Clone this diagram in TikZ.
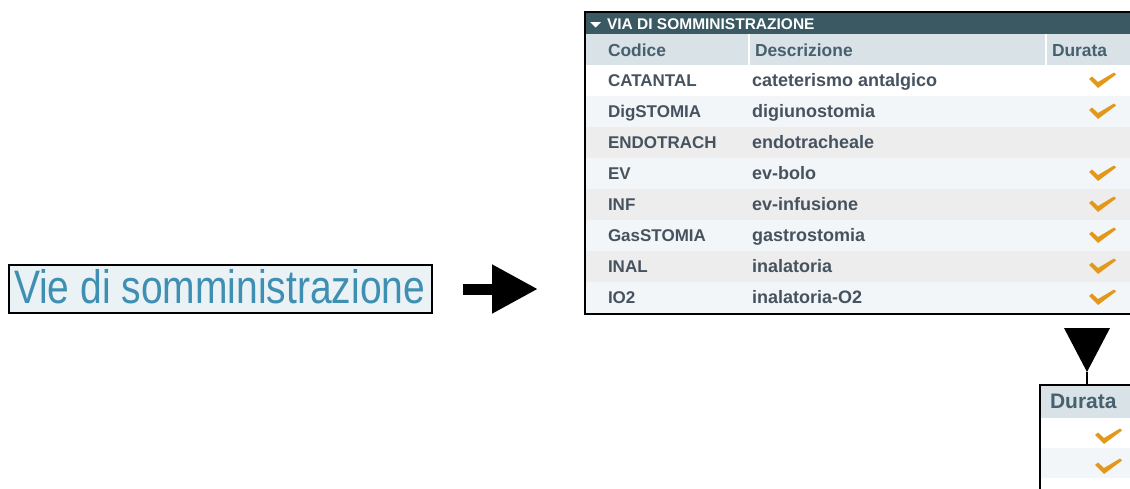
\documentclass[tikz,border=0pt]{standalone}
\usepackage{fontspec}
\setmainfont{Liberation Sans}
\usetikzlibrary{arrows.meta}
\definecolor{bar}{HTML}{3A5963}
\definecolor{hdr}{HTML}{D9E2E6}
\definecolor{rowA}{HTML}{F2F6F9}
\definecolor{rowB}{HTML}{EDEDED}
\definecolor{txt}{HTML}{46535F}
\definecolor{htxt}{HTML}{46606E}
\definecolor{chk}{HTML}{E3981A}
\definecolor{vieblue}{HTML}{3F8FB2}
\definecolor{viebg}{HTML}{EAF2F5}
\begin{document}
\begin{tikzpicture}[x=1pt,y=-1pt,
  every node/.style={inner sep=0pt, outer sep=0pt},
  cell/.style={anchor=base west, font=\bfseries\fontsize{18}{18}\selectfont, text=txt},
  hcell/.style={anchor=base west, font=\bfseries\fontsize{17.4}{18}\selectfont, text=htxt},
  frame/.style={draw=black, line width=2.5pt, anchor=north west},
  bigarrow/.style={line width=11pt, -{Triangle[length=46pt,width=46pt]}},
  pics/chkmark/.style={code={
    \fill[chk] (-13,-1) -- (-10,-3.5) -- (-4,2) -- (12,-7.5) -- (14,-5.5) -- (-4,8) -- cycle;
  }},
]
\clip (0,0) rectangle (1130,488);
\fill[white] (0,0) rectangle (1130,488);

% left box
\node[frame, line width=2pt, fill=viebg, minimum width=423pt, minimum height=48pt] (vie) at (9,265) {};
\node[anchor=base west, text=vieblue, font=\fontsize{47}{47}\selectfont] (vietext) at (14,303) {\scalebox{0.83}[1]{Vie di somministrazione}};

% main table background
\fill[bar] (585,12) rectangle (1140,34);
\fill[hdr] (585,34) rectangle (1140,65);
\draw[white, line width=2pt] (749,34) -- (749,65);
\draw[white, line width=2pt] (1046,34) -- (1046,65);
\fill[white] (585,65) rectangle (1140,96);
\foreach \i in {1,3,5,7} {
  \fill[rowA] (585,65+31*\i) rectangle (1140,96+31*\i);
}
\foreach \i in {2,4,6} {
  \fill[rowB] (585,65+31*\i) rectangle (1140,96+31*\i);
}
\node[frame, minimum width=560pt, minimum height=302pt] (tbl) at (585,12) {};

% title
\fill[white] (590,22) -- (601,22) -- (595.5,27.5) -- cycle;
\node[anchor=base west, text=white, font=\bfseries\fontsize{15.5}{16}\selectfont] (title) at (607,29) {VIA DI SOMMINISTRAZIONE};

% header
\node[hcell] (hcod) at (608,56) {Codice};
\node[hcell] (hdesc) at (755,56) {Descrizione};
\node[hcell] (hdur) at (1052,56) {Durata};

% rows
\foreach \i/\cod/\desc/\c in {0/CATANTAL/cateterismo antalgico/1,
  1/DigSTOMIA/digiunostomia/1,
  2/ENDOTRACH/endotracheale/0,
  3/EV/ev-bolo/1,
  4/INF/ev-infusione/1,
  5/GasSTOMIA/gastrostomia/1,
  6/INAL/inalatoria/1,
  7/IO2/inalatoria-O2/1} {
  \node[cell, font=\bfseries\fontsize{17}{18}\selectfont] (cod\i) at (608,86.5+31*\i) {\cod};
  \node[cell] (desc\i) at (752,86.5+31*\i) {\desc};
  \ifnum\c=1
    \pic at (1102,80+31*\i) {chkmark};
  \fi
}

% small box
\fill[hdr] (1040,385) rectangle (1140,418);
\fill[white] (1040,418) rectangle (1140,448);
\fill[rowA] (1040,448) rectangle (1140,478);
\fill[white] (1040,478) rectangle (1140,500);
\node[frame, line width=2pt, minimum width=100pt, minimum height=120pt] (sm) at (1040,385) {};
\node[hcell, font=\bfseries\fontsize{21}{21}\selectfont] (sdur) at (1050,408) {Durata};
\pic at (1108,436) {chkmark};
\pic at (1108,466) {chkmark};

% arrows
\draw[bigarrow, shorten <=31pt, shorten >=47pt] (vie.east) -- (vie.east -| tbl.west);
\coordinate (tbase) at (1087,328);
\coordinate (tipd) at (1087,372);
\fill (tbase) ++(-23,0) -- ++(46,0) -- (tipd) -- cycle;
\draw[line width=2pt] (tipd) -- (tipd |- sm.north);
\end{tikzpicture}
\end{document}
